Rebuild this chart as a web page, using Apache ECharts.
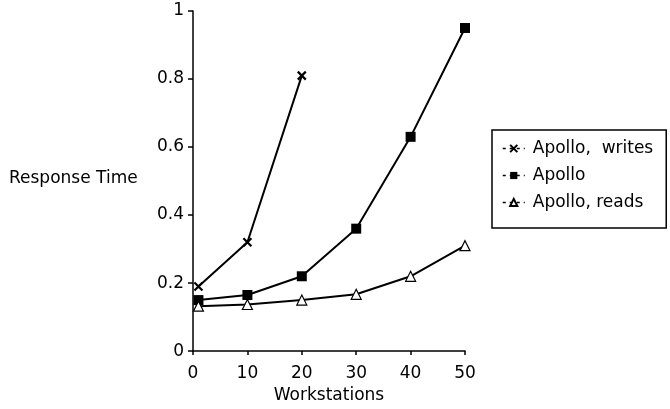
<!DOCTYPE html>
<html>
<head>
    <meta charset="utf-8">
    <title>Response Time</title>
    <script src="https://cdn.jsdelivr.net/npm/echarts@6/dist/echarts.min.js"></script>
</head>
<body style="margin:0">
    <div id="main" style="width: 670px;height:409px;"></div>
    <script type="text/javascript">
        // workstations (x) and response time per series
        var workstations = [1, 10, 20, 30, 40, 50];
        var apolloWrites = [0.19, 0.32, 0.81];
        var apollo = [0.15, 0.165, 0.22, 0.36, 0.63, 0.95];
        var apolloReads = [0.132, 0.137, 0.15, 0.167, 0.22, 0.31];
        var xTicks = [0, 10, 20, 30, 40, 50];
        var yTicks = [0, 0.2, 0.4, 0.6, 0.8, 1];

        function pairs(vals) {
            return vals.map(function (v, i) { return [workstations[i], v]; });
        }

        var font = 'DejaVu Sans, sans-serif';
        var crossPath = 'path://M0,0L10,10M10,0L0,10';

        var myChart = echarts.init(document.getElementById('main'));
        myChart.setOption({
            animation: false,
            backgroundColor: '#fff',
            textStyle: { fontFamily: font, color: '#000' },
            grid: { left: 193, right: 205, top: 11, bottom: 56 },
            graphic: [{
                type: 'text', left: 9, top: 170,
                style: { text: 'Response Time', font: '17px ' + font, fill: '#000' }
            }],
            legend: {
                orient: 'vertical',
                left: 492, top: 130,
                padding: [10, 13, 17, 10],
                itemGap: 10,
                itemWidth: 22, itemHeight: 9,
                borderColor: '#000', borderWidth: 1.5,
                lineStyle: { type: [3, 4], width: 1.5 },
                textStyle: { fontSize: 17, color: '#000', fontFamily: font, padding: [0, 0, 0, 3] },
                data: ['Apollo,  writes', 'Apollo', 'Apollo, reads']
            },
            xAxis: {
                type: 'value',
                min: 0, max: 50, interval: 10,
                name: 'Workstations',
                nameLocation: 'middle',
                nameGap: 34,
                nameTextStyle: { fontSize: 17, color: '#000' },
                splitLine: { show: false },
                axisLine: { lineStyle: { color: '#000', width: 1.5 } },
                axisTick: { lineStyle: { color: '#000', width: 1.5 }, length: 4 },
                axisLabel: {
                    fontSize: 17, color: '#000', margin: 14,
                    formatter: function (v) { return xTicks.indexOf(v) >= 0 ? String(v) : ''; }
                }
            },
            yAxis: {
                type: 'value',
                min: 0, max: 1, interval: 0.2,
                splitLine: { show: false },
                axisLine: { show: true, lineStyle: { color: '#000', width: 1.5 } },
                axisTick: { show: true, lineStyle: { color: '#000', width: 1.5 }, length: 5 },
                axisLabel: {
                    fontSize: 17, color: '#000', margin: 9,
                    formatter: function (v) {
                        for (var i = 0; i < yTicks.length; i++) {
                            if (Math.abs(yTicks[i] - v) < 1e-6) return String(yTicks[i]);
                        }
                        return '';
                    }
                }
            },
            series: [
                {
                    name: 'Apollo,  writes',
                    type: 'line',
                    data: pairs(apolloWrites),
                    symbol: crossPath,
                    symbolSize: 8,
                    lineStyle: { color: '#000', width: 2 },
                    itemStyle: { color: 'none', borderColor: '#000', borderWidth: 2.2 }
                },
                {
                    name: 'Apollo',
                    type: 'line',
                    data: pairs(apollo),
                    symbol: 'rect',
                    symbolSize: 10,
                    lineStyle: { color: '#000', width: 2 },
                    itemStyle: { color: '#000' }
                },
                {
                    name: 'Apollo, reads',
                    type: 'line',
                    data: pairs(apolloReads),
                    symbol: 'triangle',
                    symbolSize: 10,
                    lineStyle: { color: '#000', width: 2 },
                    itemStyle: { color: '#fff', borderColor: '#000', borderWidth: 1.2 }
                }
            ]
        });
    </script>
</body>
</html>
